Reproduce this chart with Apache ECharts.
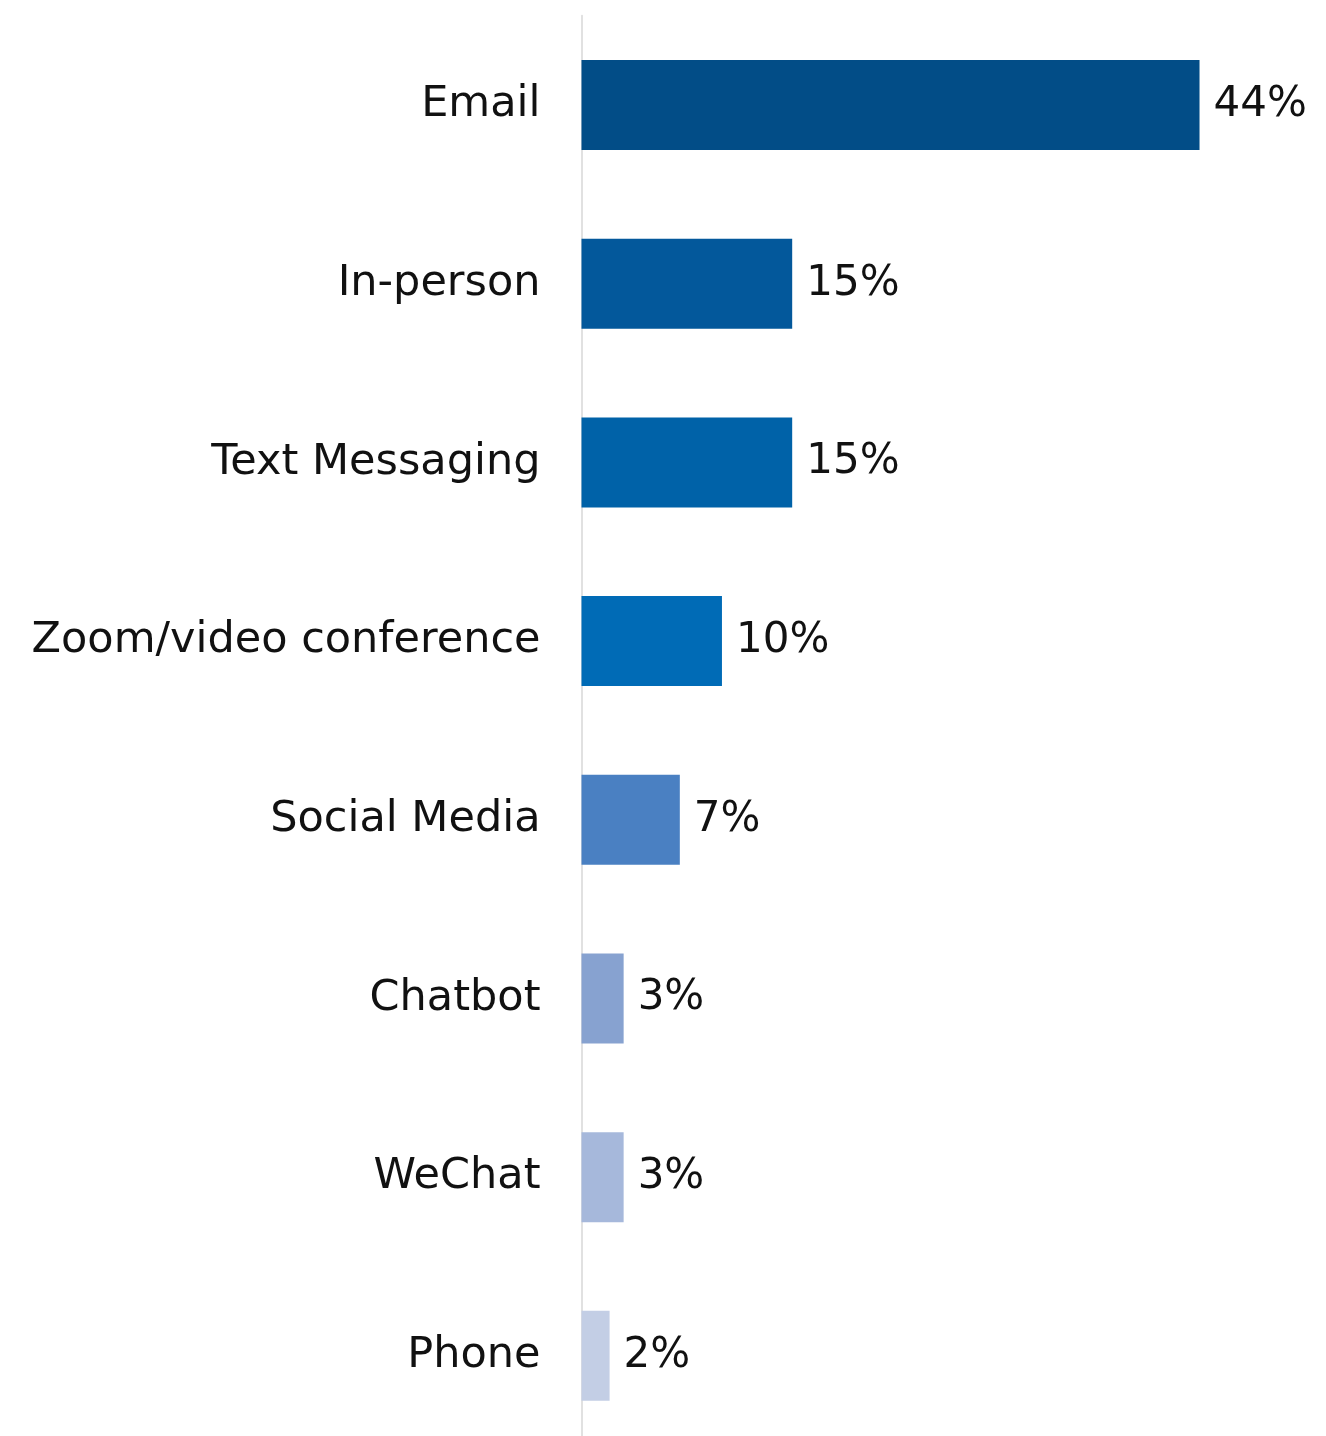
<!DOCTYPE html>
<html>
<head>
<meta charset="utf-8">
<script src="https://cdn.jsdelivr.net/npm/echarts@6/dist/echarts.min.js"></script>
<style>
  html, body { margin: 0; padding: 0; background: #ffffff; overflow: hidden; }
  #chart { width: 1326px; height: 1460px; }
</style>
</head>
<body>
<div id="chart"></div>
<script>
// Preferred communication channels (share of respondents, %)
const channels = ['Email', 'In-person', 'Text Messaging', 'Zoom/video conference', 'Social Media', 'Chatbot', 'WeChat', 'Phone'];
const shares = [44, 15, 15, 10, 7, 3, 3, 2];

// Bar fills, darkest for the top channel
const palette = ['#024D87', '#03589B', '#0062A8', '#006BB6', '#4A80C2', '#87A2D0', '#A6B8DB', '#C3CEE5'];

const chart = echarts.init(document.getElementById('chart'), null, { renderer: 'canvas' });

const fontFamily = '"DejaVu Sans", sans-serif';

chart.setOption({
  animation: false,
  backgroundColor: '#ffffff',
  grid: {
    left: 581.5,
    top: 15.7,
    width: 702.3,
    height: 1429.5,
    containLabel: false
  },
  xAxis: {
    type: 'value',
    min: 0,
    max: 50,
    show: false,
    splitLine: { show: false }
  },
  yAxis: {
    type: 'category',
    data: channels,
    inverse: true,
    axisLine: { show: true, lineStyle: { color: '#E1E1E1', width: 2 } },
    axisTick: { show: false },
    axisLabel: {
      margin: 41,
      color: '#111111',
      fontFamily: fontFamily,
      fontSize: 43,
      padding: [6, 0, 0, 0]
    }
  },
  series: [{
    type: 'bar',
    barWidth: 90,
    data: shares.map((v, i) => ({ value: v, itemStyle: { color: palette[i] } })),
    label: {
      show: true,
      position: 'right',
      distance: 14,
      formatter: '{c}%',
      color: '#111111',
      fontFamily: fontFamily,
      fontSize: 42,
      padding: [6, 0, 0, 0]
    }
  }]
});
</script>
</body>
</html>
